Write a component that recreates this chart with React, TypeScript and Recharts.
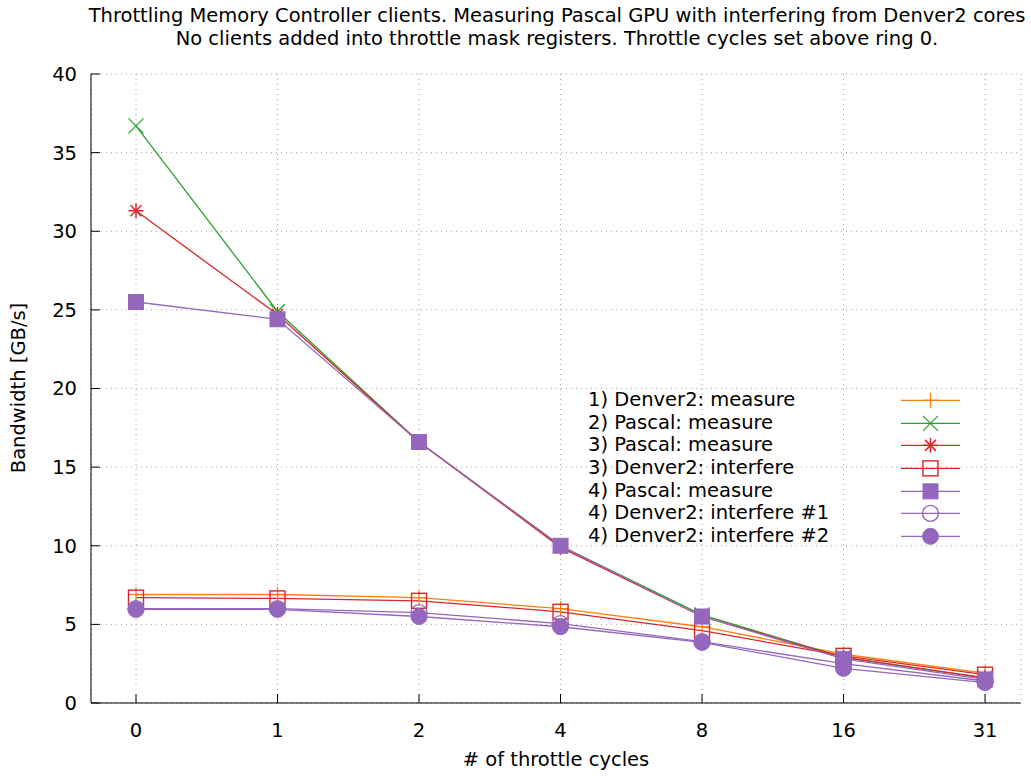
import React from 'react';
import { LineChart, Line, XAxis, YAxis, CartesianGrid, Legend } from 'recharts';

// throttle cycle categories (evenly spaced on the x axis)
const cycles = ['0', '1', '2', '4', '8', '16', '31'];
const yTicks = [0, 5, 10, 15, 20, 25, 30, 35, 40];

// bandwidth in GB/s
const denverMeasure1 = [6.9, 6.9, 6.7, 6.0, 4.85, 3.1, 1.9];
const pascalMeasure2 = [36.7, 24.9, 16.6, 10.0, 5.6, 2.9, 1.6];
const pascalMeasure3 = [31.3, 24.7, 16.6, 9.9, 5.5, 2.9, 1.6];
const denverInterfere3 = [6.7, 6.65, 6.5, 5.8, 4.6, 3.0, 1.8];
const pascalMeasure4 = [25.5, 24.4, 16.6, 10.0, 5.5, 2.8, 1.5];
const denverInterfere4a = [6.0, 6.0, 5.75, 5.05, 3.9, 2.5, 1.4];
const denverInterfere4b = [5.95, 5.95, 5.5, 4.85, 3.85, 2.2, 1.3];

const FONT = '"DejaVu Sans", sans-serif';
const FS = 19.5;

type Kind = 'plus' | 'cross' | 'star' | 'box' | 'boxFill' | 'circle' | 'circleFill';

const series: { key: string; name: string; color: string; kind: Kind; values: number[] }[] = [
  { key: 's1', name: '1) Denver2: measure', color: '#ff7f0e', kind: 'plus', values: denverMeasure1 },
  { key: 's2', name: '2) Pascal: measure', color: '#2ca02c', kind: 'cross', values: pascalMeasure2 },
  { key: 's3', name: '3) Pascal: measure', color: '#d62728', kind: 'star', values: pascalMeasure3 },
  { key: 's4', name: '3) Denver2: interfere', color: '#d62728', kind: 'box', values: denverInterfere3 },
  { key: 's5', name: '4) Pascal: measure', color: '#9467bd', kind: 'boxFill', values: pascalMeasure4 },
  { key: 's6', name: '4) Denver2: interfere #1', color: '#9467bd', kind: 'circle', values: denverInterfere4a },
  { key: 's7', name: '4) Denver2: interfere #2', color: '#9467bd', kind: 'circleFill', values: denverInterfere4b },
];

const data = cycles.map((c, i) => {
  const row: Record<string, number | string> = { i, label: c };
  series.forEach(s => { row[s.key] = s.values[i]; });
  return row;
});

const Marker = ({ kind, cx, cy, color }: { kind: Kind; cx: number; cy: number; color: string }) => {
  const h = 7.5;
  switch (kind) {
    case 'plus':
      return (
        <g stroke={color} strokeWidth={1.3}>
          <line x1={cx - h} y1={cy} x2={cx + h} y2={cy} />
          <line x1={cx} y1={cy - h} x2={cx} y2={cy + h} />
        </g>
      );
    case 'cross':
      return (
        <g stroke={color} strokeWidth={1.3}>
          <line x1={cx - h} y1={cy - h} x2={cx + h} y2={cy + h} />
          <line x1={cx - h} y1={cy + h} x2={cx + h} y2={cy - h} />
        </g>
      );
    case 'star':
      return (
        <g stroke={color} strokeWidth={1.5}>
          <line x1={cx - h} y1={cy} x2={cx + h} y2={cy} />
          <line x1={cx} y1={cy - h} x2={cx} y2={cy + h} />
          <line x1={cx - 5.5} y1={cy - 5.5} x2={cx + 5.5} y2={cy + 5.5} />
          <line x1={cx - 5.5} y1={cy + 5.5} x2={cx + 5.5} y2={cy - 5.5} />
        </g>
      );
    case 'box':
      return <rect x={cx - h} y={cy - h} width={2 * h} height={2 * h} fill="none" stroke={color} strokeWidth={1.4} />;
    case 'boxFill':
      return <rect x={cx - h} y={cy - h} width={2 * h} height={2 * h} fill={color} stroke={color} strokeWidth={1} />;
    case 'circle':
      return <circle cx={cx} cy={cy} r={8} fill="none" stroke={color} strokeWidth={1.4} />;
    default:
      return <circle cx={cx} cy={cy} r={8} fill={color} stroke={color} strokeWidth={1} />;
  }
};

const LegendBox = () => (
  <div style={{ fontFamily: FONT, fontSize: FS, color: '#000', width: 400 }}>
    {series.map(s => (
      <div key={s.key} style={{ position: 'relative', height: 22.7, lineHeight: '22.7px', whiteSpace: 'nowrap' }}>
        <span>{s.name}</span>
        <svg width={70} height={23} style={{ position: 'absolute', left: 308, top: 0 }}>
          <line x1={5} y1={11.35} x2={64} y2={11.35} stroke={s.color} strokeWidth={1.3} />
          <Marker kind={s.kind} cx={34.5} cy={11.35} color={s.color} />
        </svg>
      </div>
    ))}
  </div>
);

const X_DOMAIN: [number, number] = [-0.318, 6.254];
const tickStyle = { fontSize: FS, fill: '#000', fontFamily: FONT };

export default function App() {
  return (
    <div style={{ position: 'absolute', left: 0, top: 0, width: 1031, height: 776, background: '#fff' }}>
      <div style={{ position: 'absolute', left: 0, top: 4, width: 1114, textAlign: 'center', fontFamily: FONT, fontSize: FS, lineHeight: '23px', color: '#000' }}>
        Throttling Memory Controller clients. Measuring Pascal GPU with interfering from Denver2 cores
        <br />
        No clients added into throttle mask registers. Throttle cycles set above ring 0.
      </div>
      <div style={{ position: 'absolute', left: 406, top: 748, width: 300, textAlign: 'center', fontFamily: FONT, fontSize: FS, color: '#000' }}>
        # of throttle cycles
      </div>
      <div style={{ position: 'absolute', left: 18, top: 388, width: 0, height: 0 }}>
        <div style={{ position: 'absolute', transform: 'translate(-50%, -50%) rotate(-90deg)', whiteSpace: 'nowrap', fontFamily: FONT, fontSize: FS, color: '#000' }}>
          Bandwidth [GB/s]
        </div>
      </div>
      <LineChart width={1031} height={776} data={data} margin={{ top: 74, right: 10, bottom: 0, left: 0 }}>
        <CartesianGrid stroke="#a0a0a0" strokeDasharray="1 4" />
        <XAxis
          dataKey="i"
          type="number"
          domain={X_DOMAIN}
          ticks={[0, 1, 2, 3, 4, 5, 6]}
          tickFormatter={(v: number) => cycles[v]}
          height={73}
          tickSize={-9}
          tickMargin={29}
          stroke="#000"
          tick={tickStyle}
          allowDataOverflow
        />
        <XAxis
          xAxisId="top"
          orientation="top"
          dataKey="i"
          type="number"
          domain={X_DOMAIN}
          ticks={[0, 1, 2, 3, 4, 5, 6]}
          tickFormatter={() => ''}
          height={0}
          tickSize={-9}
          stroke="#000"
          allowDataOverflow
        />
        <YAxis
          type="number"
          domain={[0, 40]}
          ticks={yTicks}
          width={91}
          tickSize={-9}
          tickMargin={23}
          stroke="#000"
          tick={tickStyle}
          allowDataOverflow
        />
        <YAxis
          yAxisId="right"
          orientation="right"
          type="number"
          domain={[0, 40]}
          ticks={yTicks}
          tickFormatter={() => ''}
          width={0}
          tickSize={-9}
          stroke="#000"
          allowDataOverflow
        />
        <Legend
          layout="vertical"
          align="center"
          verticalAlign="middle"
          content={() => <LegendBox />}
          wrapperStyle={{ left: 588, top: 389, width: 420 }}
        />
        {series.map(s => (
          <Line
            key={s.key}
            dataKey={s.key}
            name={s.name}
            type="linear"
            stroke={s.color}
            strokeWidth={1.3}
            isAnimationActive={false}
            dot={(p: any) => <Marker key={`${s.key}-${p.index}`} kind={s.kind} cx={p.cx} cy={p.cy} color={s.color} />}
            activeDot={false}
          />
        ))}
      </LineChart>
    </div>
  );
}
